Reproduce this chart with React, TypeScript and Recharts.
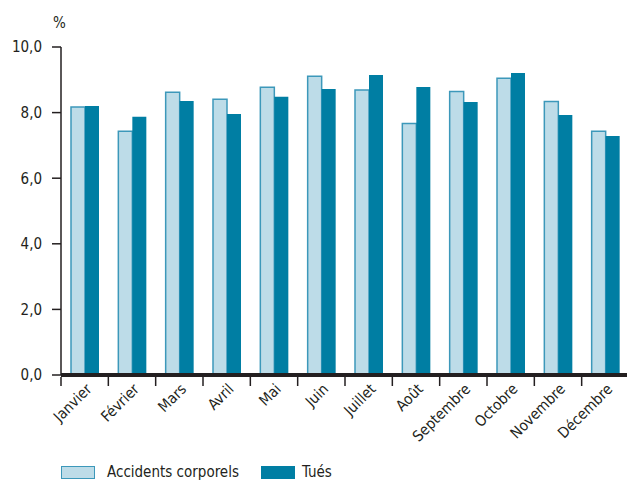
import React from 'react';
import {
  BarChart,
  Bar,
  XAxis,
  YAxis,
  Legend,
} from 'recharts';

// ============================================================================
// Data
// ============================================================================

const MONTHS = [
  'Janvier', 'Février', 'Mars', 'Avril', 'Mai', 'Juin',
  'Juillet', 'Août', 'Septembre', 'Octobre', 'Novembre', 'Décembre',
];

const ACCIDENTS = [8.17, 7.43, 8.62, 8.41, 8.77, 9.11, 8.69, 7.67, 8.64, 9.05, 8.34, 7.43];
const TUES = [8.2, 7.87, 8.35, 7.96, 8.48, 8.72, 9.15, 8.78, 8.32, 9.21, 7.93, 7.29];

const Y_TICKS = [0, 2, 4, 6, 8, 10];

// ============================================================================
// Constants
// ============================================================================

const FONT = '"Liberation Sans Narrow", "DejaVu Sans Condensed", "Arial Narrow", sans-serif';
const TEXT_COLOR = '#231f20';
const LIGHT_FILL = '#bddce8';
const LIGHT_STROKE = '#3c98ba';
const DARK_FILL = '#007ea3';

const CHART_WIDTH = 629;
const CHART_HEIGHT = 481;
const AXIS_WIDTH = 61;
const PLOT_WIDTH = CHART_WIDTH - AXIS_WIDTH;
const BAND = PLOT_WIDTH / MONTHS.length;

const chartData = MONTHS.map((month, i) => ({
  month,
  accidents: ACCIDENTS[i],
  tues: TUES[i],
}));

// ============================================================================
// Components
// ============================================================================

// tick line at the left edge of each band, label rotated under it
const MonthTick = (props: any) => {
  const { x, y, payload } = props;
  return (
    <g>
      <line
        x1={x - BAND / 2}
        x2={x - BAND / 2}
        y1={y}
        y2={y + 9}
        stroke={TEXT_COLOR}
        strokeWidth={1.5}
      />
      <text
        transform={`translate(${x + 8},${y + 13}) rotate(-45)`}
        textAnchor="end"
        fontFamily={FONT}
        fontSize={15}
        fill={TEXT_COLOR}
      >
        {payload.value}
      </text>
    </g>
  );
};

const LegendContent = () => (
  <div style={{ display: 'flex', alignItems: 'center', fontFamily: FONT, fontSize: 15, color: TEXT_COLOR }}>
    <span
      style={{
        display: 'inline-block',
        width: 32,
        height: 11,
        background: LIGHT_FILL,
        border: `1.5px solid ${LIGHT_STROKE}`,
      }}
    />
    <span style={{ marginLeft: 12 }}>Accidents corporels</span>
    <span
      style={{
        display: 'inline-block',
        width: 34,
        height: 13,
        background: DARK_FILL,
        marginLeft: 22,
      }}
    />
    <span style={{ marginLeft: 7 }}>Tués</span>
  </div>
);

export default function App() {
  return (
    <div
      style={{
        position: 'absolute',
        left: 0,
        top: 0,
        width: 627,
        height: CHART_HEIGHT,
        overflow: 'hidden',
        background: '#fff',
      }}
    >
      <BarChart
        width={CHART_WIDTH}
        height={CHART_HEIGHT}
        data={chartData}
        margin={{ top: 47, right: 0, left: 0, bottom: 0 }}
        barSize={14}
        barGap={0}
      >
        <XAxis
          dataKey="month"
          interval={0}
          height={106}
          tickSize={0}
          tickLine={false}
          tick={<MonthTick />}
          axisLine={{ stroke: TEXT_COLOR, strokeWidth: 4 }}
        />
        <YAxis
          width={AXIS_WIDTH}
          domain={[0, 10]}
          ticks={Y_TICKS}
          interval={0}
          tickSize={9}
          tickMargin={10}
          tickFormatter={(v: number) => v.toFixed(1).replace('.', ',')}
          tick={{ fontSize: 15, fill: TEXT_COLOR, fontFamily: FONT }}
          tickLine={{ stroke: TEXT_COLOR, strokeWidth: 1.5 }}
          axisLine={{ stroke: TEXT_COLOR, strokeWidth: 1.5 }}
          label={{
            content: () => (
              <text x={53} y={28} fontFamily={FONT} fontSize={15} fill={TEXT_COLOR}>
                %
              </text>
            ),
          }}
        />
        <Legend
          layout="horizontal"
          verticalAlign="middle"
          align="center"
          content={<LegendContent />}
          wrapperStyle={{ left: 61, top: 463, width: 400 }}
        />
        <Bar
          dataKey="accidents"
          name="Accidents corporels"
          fill={LIGHT_FILL}
          stroke={LIGHT_STROKE}
          strokeWidth={1.5}
          isAnimationActive={false}
        />
        <Bar
          dataKey="tues"
          name="Tués"
          fill={DARK_FILL}
          isAnimationActive={false}
        />
      </BarChart>
    </div>
  );
}
